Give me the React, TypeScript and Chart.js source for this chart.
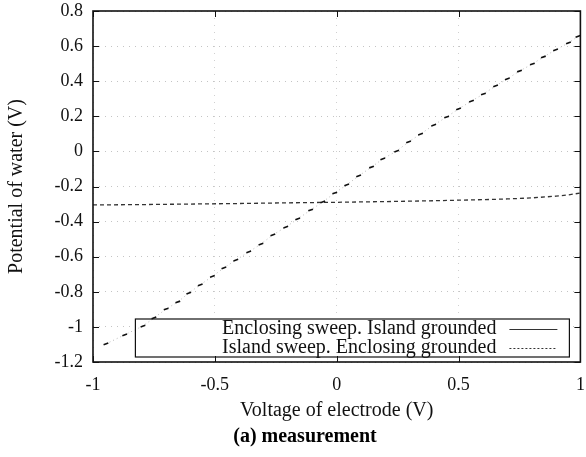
import React, { useEffect, useRef } from "react";
import { Chart, registerables } from "chart.js";

Chart.register(...registerables);

const seriesLabels = [
  "Enclosing sweep. Island grounded",
  "Island sweep. Enclosing grounded",
];

const enclosingX = [
  -0.947, -0.87, -0.795, -0.75, -0.7, -0.652, -0.607, -0.56, -0.51, -0.463, -0.414, -0.361,
  -0.311, -0.262, -0.209, -0.16, -0.107, -0.057, -0.008, 0.041, 0.09, 0.143, 0.189, 0.246,
  0.295, 0.344, 0.398, 0.451, 0.5, 0.553, 0.602, 0.652, 0.7, 0.75, 0.803, 0.848, 0.898, 0.951, 0.99,
];
const enclosingY = [
  -1.097, -1.045, -0.995, -0.949, -0.898, -0.858, -0.807, -0.76, -0.712, -0.664, -0.619, -0.573,
  -0.528, -0.476, -0.431, -0.385, -0.334, -0.288, -0.237, -0.191, -0.14, -0.089, -0.043, 0.002,
  0.054, 0.099, 0.15, 0.196, 0.242, 0.287, 0.327, 0.373, 0.413, 0.458, 0.498, 0.538, 0.578, 0.618, 0.655,
];

const islandX = [-1, -0.8, -0.6, -0.4, -0.2, 0, 0.2, 0.4, 0.6, 0.7, 0.8, 0.9, 0.95, 1.0];
const islandY = [-0.305, -0.303, -0.3, -0.297, -0.293, -0.29, -0.286, -0.281, -0.275, -0.271, -0.265, -0.255, -0.248, -0.237];

const xTickValues = [-1, -0.5, 0, 0.5, 1];
const yTickValues = [-1.2, -1, -0.8, -0.6, -0.4, -0.2, 0, 0.2, 0.4, 0.6, 0.8];

const xTitle = "Voltage of electrode (V)";
const yTitle = "Potential of water (V)";
const caption = "(a) measurement";

const SERIF = "'Liberation Serif', 'Times New Roman', serif";

const fmt = (v: number) => String(Number(v.toFixed(2)));

function legendBox(chart: any) {
  const { chartArea } = chart;
  const w = 434;
  const h = 38;
  return { x: chartArea.right - 11 - w, y: chartArea.bottom - 5 - h, w, h };
}

const framePlugin = {
  id: "frame",
  beforeDatasetsDraw(chart: any) {
    const { ctx } = chart;
    const L = legendBox(chart);
    ctx.save();
    ctx.fillStyle = "#fff";
    ctx.fillRect(L.x, L.y, L.w, L.h);
    ctx.restore();
  },
  afterDatasetsDraw(chart: any) {
    const { ctx, chartArea } = chart;
    const { left, right, top, bottom } = chartArea;
    const xs = chart.scales.x;
    const ys = chart.scales.y;
    ctx.save();
    ctx.strokeStyle = "#111";
    ctx.lineWidth = 1;
    const tl = 6;
    ctx.beginPath();
    xTickValues.forEach((v) => {
      const px = Math.round(xs.getPixelForValue(v)) + 0.5;
      ctx.moveTo(px, bottom);
      ctx.lineTo(px, bottom - tl);
      ctx.moveTo(px, top);
      ctx.lineTo(px, top + tl);
    });
    yTickValues.forEach((v) => {
      const py = Math.round(ys.getPixelForValue(v)) + 0.5;
      ctx.moveTo(left, py);
      ctx.lineTo(left + tl, py);
      ctx.moveTo(right, py);
      ctx.lineTo(right - tl, py);
    });
    ctx.stroke();
    ctx.lineWidth = 1.6;
    ctx.strokeRect(left, top, right - left, bottom - top);

    // legend
    const L = legendBox(chart);
    ctx.lineWidth = 1.2;
    ctx.strokeRect(L.x, L.y, L.w, L.h);
    ctx.font = `20px ${SERIF}`;
    ctx.fillStyle = "#111";
    ctx.textAlign = "right";
    ctx.textBaseline = "middle";
    const rows = [L.y + 10, L.y + 29];
    seriesLabels.forEach((lab, i) => {
      ctx.fillText(lab, L.x + 361, rows[i]);
      ctx.beginPath();
      ctx.lineWidth = 1;
      ctx.strokeStyle = "#333";
      ctx.setLineDash(i === 0 ? [] : [2, 2]);
      ctx.moveTo(L.x + 374, rows[i] + 0.5);
      ctx.lineTo(L.x + 422, rows[i] + 0.5);
      ctx.stroke();
    });
    ctx.setLineDash([]);

    // caption
    ctx.font = `bold 20px ${SERIF}`;
    ctx.textAlign = "center";
    ctx.fillStyle = "#000";
    ctx.fillText(caption, 305, 437);
    ctx.restore();
  },
};

export default function App() {
  const ref = useRef<HTMLCanvasElement | null>(null);
  useEffect(() => {
    document.body.style.margin = "0";
    const canvas = ref.current!;
    const chart = new Chart(canvas, {
      type: "line",
      data: {
        datasets: [
          {
            label: seriesLabels[0],
            data: enclosingX.map((x, i) => ({ x, y: enclosingY[i] })),
            borderColor: "#b8b8b8",
            borderWidth: 1,
            borderDash: [1, 3],
            pointStyle: "line",
            pointRadius: 2.5,
            pointRotation: -20,
            pointBorderColor: "#111",
            pointBorderWidth: 1.6,
            pointBackgroundColor: "#111",
            fill: false,
            tension: 0,
          },
          {
            label: seriesLabels[1],
            data: islandX.map((x, i) => ({ x, y: islandY[i] })),
            borderColor: "#333",
            borderWidth: 1.3,
            borderDash: [4, 3],
            pointRadius: 0,
            fill: false,
            tension: 0,
          },
        ],
      },
      options: {
        responsive: false,
        animation: false,
        layout: { padding: { left: 0, right: 5, top: 11, bottom: 0 } },
        plugins: { legend: { display: false }, tooltip: { enabled: false } },
        scales: {
          x: {
            type: "linear",
            min: -1,
            max: 1,
            afterFit: (s: any) => {
              s.height = 95;
              s.paddingLeft = 0;
              s.paddingRight = 0;
            },
            afterBuildTicks: (s: any) => {
              s.ticks = xTickValues.map((v) => ({ value: v }));
            },
            ticks: {
              callback: (v: any) => fmt(Number(v)),
              font: { family: SERIF, size: 18 },
              color: "#111",
              padding: 12,
              maxRotation: 0,
            },
            grid: {
              color: "#d0d0d0",
              lineWidth: 1,
              drawTicks: false,
            },
            border: { display: false, dash: [1, 6] },
            title: {
              display: true,
              text: xTitle,
              font: { family: SERIF, size: 20 },
              color: "#111",
              padding: { top: 0, bottom: 34 },
            },
          },
          y: {
            type: "linear",
            min: -1.2,
            max: 0.8,
            afterFit: (s: any) => {
              s.width = 93;
              s.paddingTop = 0;
              s.paddingBottom = 0;
            },
            afterBuildTicks: (s: any) => {
              s.ticks = yTickValues.map((v) => ({ value: v }));
            },
            ticks: {
              callback: (v: any) => fmt(Number(v)),
              font: { family: SERIF, size: 18 },
              color: "#111",
              padding: 10,
            },
            grid: {
              color: "#c4c4c4",
              lineWidth: 1,
              drawTicks: false,
            },
            border: { display: false, dash: [1, 5] },
            title: {
              display: true,
              text: yTitle,
              font: { family: SERIF, size: 20 },
              color: "#111",
              padding: { top: 5, bottom: 0 },
            },
          },
        },
      },
      plugins: [framePlugin],
    });
    return () => chart.destroy();
  }, []);
  return (
    <div style={{ position: "absolute", left: 0, top: 0, width: 586, height: 457, background: "#fff" }}>
      <canvas ref={ref} width={586} height={457} style={{ width: 586, height: 457 }} />
    </div>
  );
}
